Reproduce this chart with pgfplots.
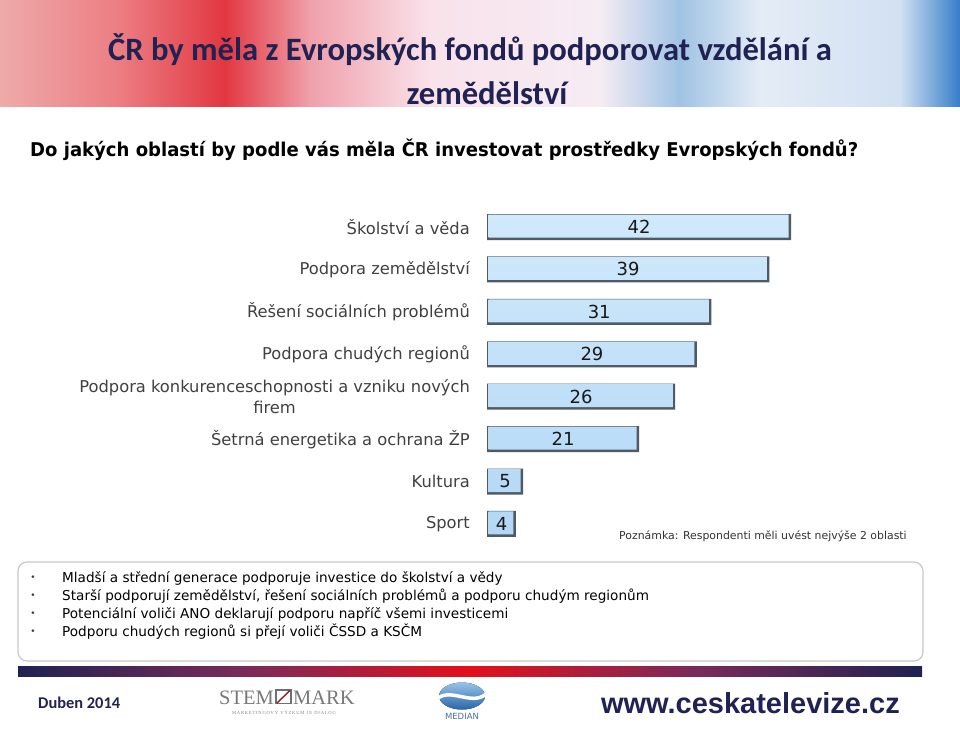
\documentclass[border=0pt]{standalone}
\usepackage{pgfplots}
\pgfplotsset{compat=1.18}
\usepackage{pgfplotstable}
\usepackage{fontspec}
\usepackage{graphicx}
\setmainfont{DejaVu Sans}
\newfontfamily\carlito{Carlito}
\newfontfamily\dejavu{DejaVu Sans}
\newfontfamily\libsans{Liberation Sans}
\newfontfamily\libserif{Liberation Serif}
\definecolor{navy}{HTML}{1F2252}
\definecolor{labgray}{HTML}{404040}
\definecolor{barlightT}{HTML}{D0E9FB}
\definecolor{barlightB}{HTML}{B3D7F5}
\definecolor{bardark}{HTML}{4E5B67}
\definecolor{fred}{HTML}{E3101B}
\definecolor{fpurple}{HTML}{7A2A5A}
\definecolor{medblue}{HTML}{2A66A8}

\pgfplotstableread{
y v
7 42
6 39
5 31
4 29
3 26
2 21
1 5
0 4
}\data

\begin{document}
\begin{tikzpicture}
\path[use as bounding box] (0pt,0pt) rectangle (960pt,728pt);
% banner
\fill[left color={rgb,255:red,238;green,170;blue,170}, right color={rgb,255:red,236;green,125;blue,130}] (0pt,621pt) rectangle (120pt,728pt);
\fill[left color={rgb,255:red,236;green,125;blue,130}, right color={rgb,255:red,226;green,55;blue,65}] (119.5pt,621pt) rectangle (225pt,728pt);
\fill[left color={rgb,255:red,226;green,55;blue,65}, right color={rgb,255:red,240;green,160;blue,170}] (224.5pt,621pt) rectangle (310pt,728pt);
\fill[left color={rgb,255:red,240;green,160;blue,170}, right color={rgb,255:red,249;green,226;blue,234}] (309.5pt,621pt) rectangle (430pt,728pt);
\fill[left color={rgb,255:red,249;green,226;blue,234}, right color={rgb,255:red,246;green,236;blue,244}] (429.5pt,621pt) rectangle (600pt,728pt);
\fill[left color={rgb,255:red,246;green,236;blue,244}, right color={rgb,255:red,160;green,195;blue,228}] (599.5pt,621pt) rectangle (680pt,728pt);
\fill[left color={rgb,255:red,160;green,195;blue,228}, right color={rgb,255:red,228;green,236;blue,246}] (679.5pt,621pt) rectangle (760pt,728pt);
\fill[left color={rgb,255:red,228;green,236;blue,246}, right color={rgb,255:red,210;green,225;blue,242}] (759.5pt,621pt) rectangle (900pt,728pt);
\fill[left color={rgb,255:red,210;green,225;blue,242}, right color={rgb,255:red,55;green,125;blue,200}] (899.5pt,621pt) rectangle (960pt,728pt);
% title
\node[anchor=center, text=navy, font=\carlito\bfseries\fontsize{32.6}{36}\selectfont, inner sep=0pt] at (470pt,678pt) {ČR by měla z Evropských fondů podporovat vzdělání a};
\node[anchor=center, text=navy, font=\carlito\bfseries\fontsize{32.6}{36}\selectfont, inner sep=0pt] at (487pt,635pt) {zemědělství};
% subtitle
\node[anchor=west, inner sep=0pt, text=black] at (30pt,578pt) {\resizebox{828pt}{\height}{\dejavu\bfseries\fontsize{19}{23}\selectfont Do jakých oblastí by podle vás měla ČR investovat prostředky Evropských fondů?}};

\begin{axis}[
  at={(487pt,182.8pt)}, anchor=south west, scale only axis,
  width=325.8pt, height=339.4pt,
  xmin=0, xmax=45, ymin=-0.5, ymax=7.5,
  ytick={0,1,2,3,4,5,6,7},
  yticklabels={Sport, Kultura, Šetrná energetika a ochrana ŽP, {Podpora konkurenceschopnosti a vzniku nových\\firem}, Podpora chudých regionů, Řešení sociálních problémů, Podpora zemědělství, Školství a věda},
  yticklabel style={align=center, anchor=east, inner sep=0pt, xshift=-17pt, font=\dejavu\fontsize{16.3}{21}\selectfont, text=labgray},
  xtick=\empty, axis line style={draw=none}, major tick length=0pt, clip=false,
  /pgf/number format/assume math mode=true,
]
\addplot[xbar, bar width=26pt, bar shift=0pt, fill=bardark, draw=none] table[x=v, y=y]{\data};
\addplot[xbar, bar width=23pt, bar shift=1pt, xshift=1.5pt, top color=barlightT, bottom color=barlightB, draw=none] table[x expr=\thisrow{v}-0.55, y=y]{\data};
\addplot[draw=none, mark=none, nodes near coords, point meta=explicit,
  nodes near coords style={anchor=center, font=\dejavu\fontsize{18}{20}\selectfont, text={rgb,255:red,25;green,25;blue,25}}]
  table[x expr=\thisrow{v}/2, y=y, meta=v]{\data};
\end{axis}

% note
\node[anchor=west, inner sep=0pt, text={rgb,255:red,50;green,50;blue,50}, font=\dejavu\fontsize{10.9}{13}\selectfont] at (619pt,192pt) {Poznámka: Respondenti měli uvést nejvýše 2 oblasti};

% bullet box
\draw[rounded corners=9pt, draw={rgb,255:red,200;green,200;blue,200}, line width=1.2pt] (18pt,67pt) rectangle (923pt,166pt);
\foreach \yy/\tt in {150/{Mladší a střední generace podporuje investice do školství a vědy},
                      132/{Starší podporují zemědělství, řešení sociálních problémů a podporu chudým regionům},
                      114/{Potenciální voliči ANO deklarují podporu napříč všemi investicemi},
                      96/{Podporu chudých regionů si přejí voliči ČSSD a KSČM}}{
  \node[anchor=center, inner sep=0pt, font=\dejavu\fontsize{9}{10}\selectfont, text=labgray] at (33pt,\yy pt) {•};
  \node[anchor=west, inner sep=0pt, font=\dejavu\fontsize{13.6}{15}\selectfont, text=black] at (62pt,\yy pt) {\tt};
}

% footer band
\fill[left color=navy, right color=fred, middle color=fpurple] (18pt,52pt) rectangle (470.5pt,62pt);
\fill[left color=fred, right color=navy, middle color=fpurple] (470pt,52pt) rectangle (922pt,62pt);

% footer texts
\node[anchor=west, inner sep=0pt, text=navy, font=\carlito\bfseries\fontsize{16.4}{18}\selectfont] at (38pt,25pt) {Duben 2014};
\node[anchor=east, inner sep=0pt, text=navy, font=\libsans\bfseries\fontsize{29}{32}\selectfont] at (900pt,25pt) {www.ceskatelevize.cz};

% STEM/MARK logo
\node[anchor=base east, inner sep=0pt, text={rgb,255:red,120;green,120;blue,120}, font=\libserif\fontsize{20.5}{22}\selectfont] at (274pt,24pt) {STEM};
\draw[draw={rgb,255:red,110;green,110;blue,110}, line width=1.4pt] (276pt,24.5pt) rectangle (291pt,38pt);
\draw[draw={rgb,255:red,140;green,30;blue,40}, line width=1.4pt] (277pt,25pt) -- (290pt,37.5pt);
\node[anchor=base west, inner sep=0pt, text={rgb,255:red,120;green,120;blue,120}, font=\libserif\fontsize{20.5}{22}\selectfont] at (293pt,24pt) {MARK};
\node[anchor=center, inner sep=0pt, text={rgb,255:red,130;green,130;blue,130}, font=\libserif\fontsize{4.6}{5}\selectfont] at (284pt,15pt) {M\,A\,R\,K\,E\,T\,I\,N\,G\,O\,V\,Ý\ \ V\,Ý\,Z\,K\,U\,M\ \ J\,E\ \ D\,I\,A\,L\,O\,G};

% MEDIAN logo
\fill[top color={rgb,255:red,150;green,195;blue,235}, bottom color=medblue] (462pt,32pt) ellipse (23pt and 13.5pt);
\draw[white, line width=3.5pt] (438pt,30pt) .. controls (452pt,40pt) and (472pt,22pt) .. (486pt,34pt);
\node[anchor=center, inner sep=0pt, text={rgb,255:red,70;green,110;blue,160}, font=\dejavu\fontsize{8.5}{10}\selectfont] at (462pt,12pt) {MEDIAN};
\end{tikzpicture}
\end{document}
